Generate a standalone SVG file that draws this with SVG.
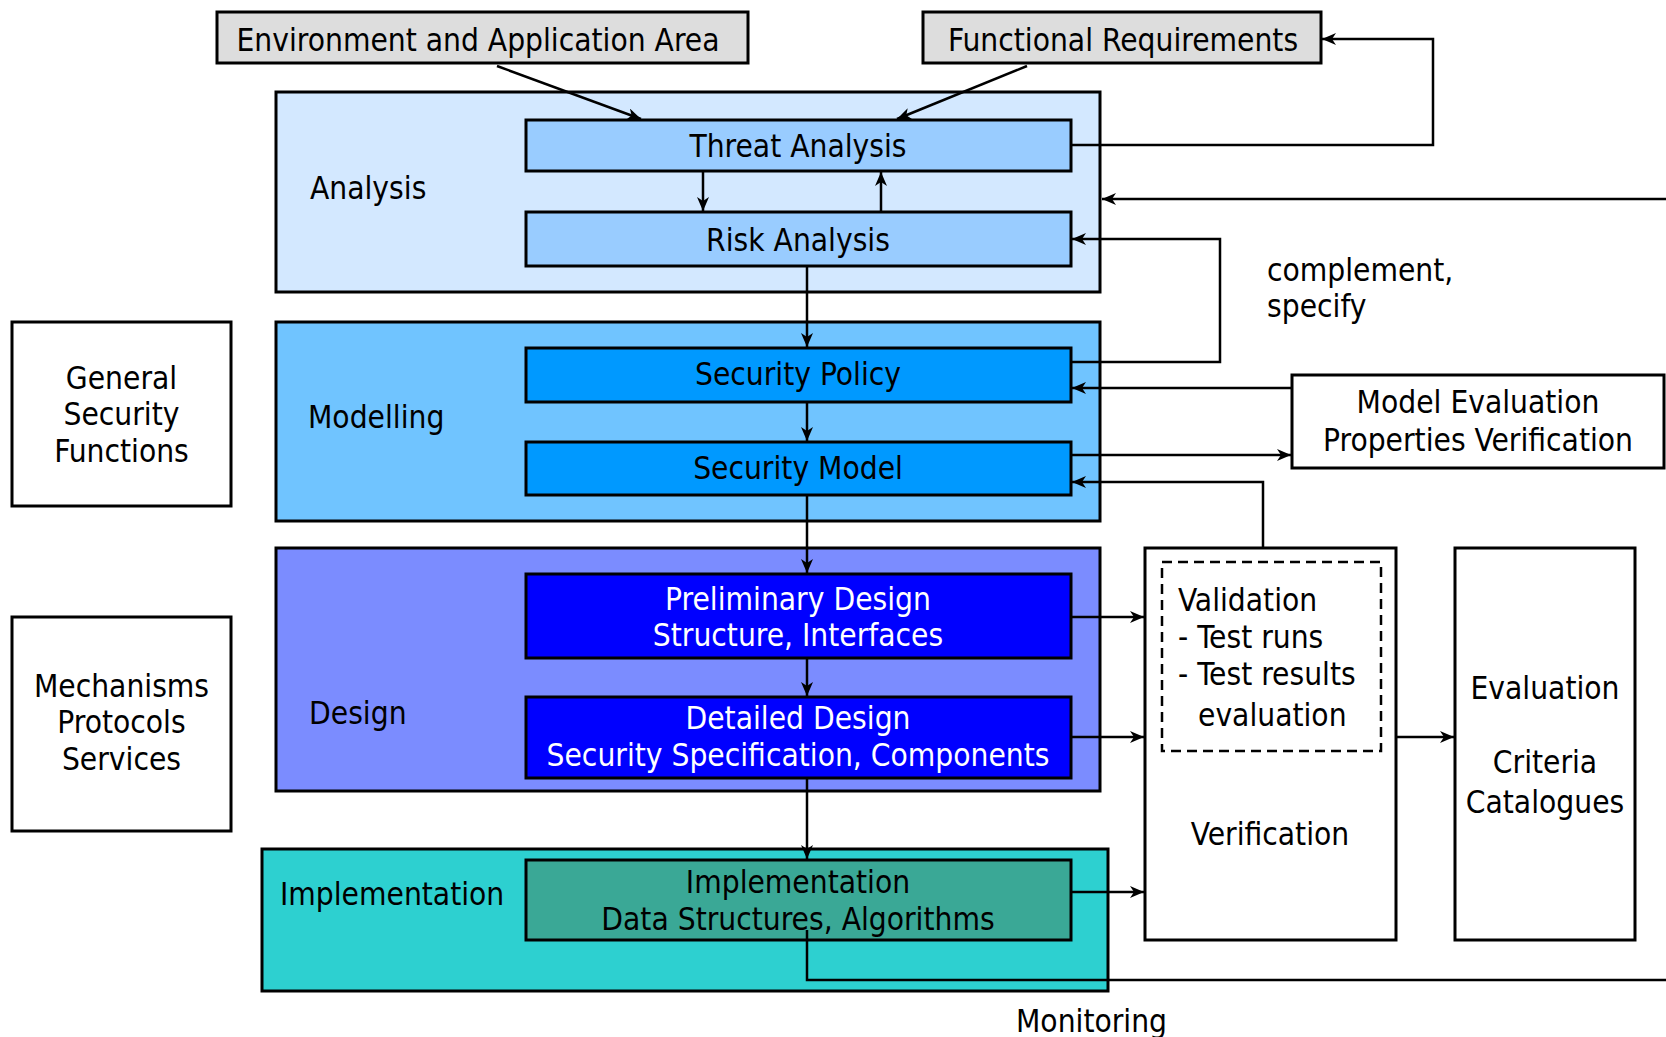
<svg xmlns="http://www.w3.org/2000/svg" width="1666" height="1037" viewBox="0 0 1666 1037">
<defs>
<style>
text{font-family:"DejaVu Sans Condensed","DejaVu Sans",sans-serif;font-size:31.4px;fill:#000}
.c{text-anchor:middle}
.w{fill:#fff}
.box{stroke:#000;stroke-width:3}
.con{fill:none;stroke:#000;stroke-width:2.5}
</style>
<marker id="ah" viewBox="0 0 14 12" refX="14" refY="6" markerWidth="14" markerHeight="12" markerUnits="userSpaceOnUse" orient="auto">
<path d="M0,0 L14,6 L0,12 L4,6 z" fill="#000"/>
</marker>
</defs>
<rect width="1666" height="1037" fill="#fff"/>

<g id="env"><rect class="box" x="217" y="12" width="531" height="51" fill="#DDDDDD"/><text x="478" y="51" class="c">Environment and Application Area</text></g>
<g id="funreq"><rect class="box" x="923" y="12" width="398" height="51" fill="#DDDDDD"/><text x="1123" y="51" class="c">Functional Requirements</text></g>

<g id="analysis"><rect class="box" x="276" y="92" width="824" height="200" fill="#D3E8FF"/><text x="310" y="199">Analysis</text></g>
<g id="modelling"><rect class="box" x="276" y="322" width="824" height="199" fill="#70C4FF"/><text x="308" y="428">Modelling</text></g>
<g id="design"><rect class="box" x="276" y="548" width="824" height="243" fill="#7B8CFF"/><text x="309" y="724">Design</text></g>
<g id="implementation-phase"><rect class="box" x="262" y="849" width="846" height="142" fill="#2DD0D0"/><text x="280" y="905">Implementation</text></g>

<g id="threat"><rect class="box" x="526" y="120" width="545" height="51" fill="#99CCFF"/><text x="798" y="157" class="c">Threat Analysis</text></g>
<g id="risk"><rect class="box" x="526" y="212" width="545" height="54" fill="#99CCFF"/><text x="798" y="251" class="c">Risk Analysis</text></g>
<g id="policy"><rect class="box" x="526" y="348" width="545" height="54" fill="#0099FF"/><text x="798" y="385" class="c">Security Policy</text></g>
<g id="model"><rect class="box" x="526" y="442" width="545" height="53" fill="#0099FF"/><text x="798" y="479" class="c">Security Model</text></g>
<g id="prelim"><rect class="box" x="526" y="574" width="545" height="84" fill="#0000FF"/><text x="798" y="610" class="c w">Preliminary Design</text><text x="798" y="646" class="c w">Structure, Interfaces</text></g>
<g id="detailed"><rect class="box" x="526" y="697" width="545" height="81" fill="#0000FF"/><text x="798" y="729" class="c w">Detailed Design</text><text x="798" y="766" class="c w">Security Specification, Components</text></g>
<g id="impl"><rect class="box" x="526" y="860" width="545" height="80" fill="#3AA896"/><text x="798" y="893" class="c">Implementation</text><text x="798" y="930" class="c">Data Structures, Algorithms</text></g>

<g id="gsf"><rect class="box" x="12" y="322" width="219" height="184" fill="#fff"/><text x="121.5" y="389" class="c">General</text><text x="121.5" y="425" class="c">Security</text><text x="121.5" y="462" class="c">Functions</text></g>
<g id="mech"><rect class="box" x="12" y="617" width="219" height="214" fill="#fff"/><text x="121.5" y="697" class="c">Mechanisms</text><text x="121.5" y="733" class="c">Protocols</text><text x="121.5" y="770" class="c">Services</text></g>

<g id="modeleval"><rect class="box" x="1292" y="375" width="372" height="93" fill="#fff"/><text x="1478" y="413" class="c">Model Evaluation</text><text x="1478" y="451" class="c">Properties Verification</text></g>

<g id="verification"><rect class="box" x="1145" y="548" width="251" height="392" fill="#fff"/>
<rect x="1162" y="562" width="219" height="189" fill="none" stroke="#000" stroke-width="2.5" stroke-dasharray="10,6"/>
<text x="1178" y="611">Validation</text><text x="1178" y="648">- Test runs</text><text x="1178" y="685">- Test results</text><text x="1198" y="726">evaluation</text>
<text x="1270" y="845" class="c">Verification</text></g>

<g id="evaluation"><rect class="box" x="1455" y="548" width="180" height="392" fill="#fff"/><text x="1545" y="699" class="c">Evaluation</text><text x="1545" y="773" class="c">Criteria</text><text x="1545" y="813" class="c">Catalogues</text></g>

<g id="labels"><text x="1267" y="281">complement,</text><text x="1267" y="317">specify</text><text x="1016" y="1032">Monitoring</text></g>

<g id="connectors">
<path class="con" d="M497,66 L641,119" marker-end="url(#ah)"/>
<path class="con" d="M1027,66 L897,119" marker-end="url(#ah)"/>
<path class="con" d="M1071,145 H1433 V39 H1322" marker-end="url(#ah)"/>
<path class="con" d="M703,171 V211" marker-end="url(#ah)"/>
<path class="con" d="M881,212 V172" marker-end="url(#ah)"/>
<path class="con" d="M1666,199 H1102" marker-end="url(#ah)"/>
<path class="con" d="M1071,362 H1220 V239 H1072" marker-end="url(#ah)"/>
<path class="con" d="M1292,388 H1072" marker-end="url(#ah)"/>
<path class="con" d="M1071,455 H1291" marker-end="url(#ah)"/>
<path class="con" d="M1263,548 V482 H1072" marker-end="url(#ah)"/>
<path class="con" d="M807,266 V347" marker-end="url(#ah)"/>
<path class="con" d="M807,402 V441" marker-end="url(#ah)"/>
<path class="con" d="M807,495 V573" marker-end="url(#ah)"/>
<path class="con" d="M807,658 V696" marker-end="url(#ah)"/>
<path class="con" d="M807,778 V859" marker-end="url(#ah)"/>
<path class="con" d="M1071,617 H1144" marker-end="url(#ah)"/>
<path class="con" d="M1071,737 H1144" marker-end="url(#ah)"/>
<path class="con" d="M1071,892 H1144" marker-end="url(#ah)"/>
<path class="con" d="M1396,737 H1454" marker-end="url(#ah)"/>
<path class="con" d="M807,930 V980 H1666"/>
</g>
</svg>
